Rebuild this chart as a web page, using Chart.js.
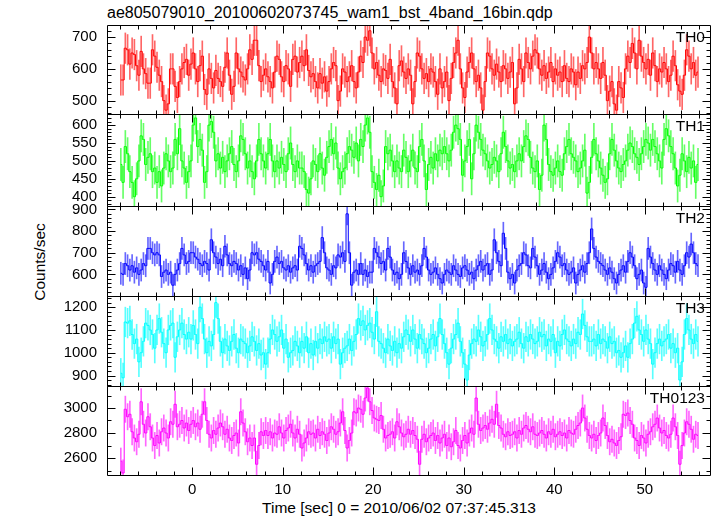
<!DOCTYPE html>
<html>
<head>
<meta charset="utf-8">
<script src="https://cdn.jsdelivr.net/npm/chart.js@4.4.1/dist/chart.umd.min.js"></script>
<style>
  body { margin: 0; background: #fff; }
  #wrap { position: relative; width: 717px; height: 516px; background: #fff; overflow: hidden;
          font-family: "Liberation Sans", Helvetica, Arial, sans-serif; color: #000; }
  #wrap canvas { position: absolute; left: 0; }
  .txt { position: absolute; font-size: 15.5px; line-height: 18px; white-space: nowrap; }
  #title { left: 107px; top: 4px; font-size: 16px; }
  #ylab { left: 40px; top: 262px; transform: translate(-50%, -50%) rotate(-90deg); }
  #xlab { left: 399px; top: 508px; transform: translate(-50%, -50%); }
  .th { right: 12px; text-align: right; }
</style>
</head>
<body>
<div id="wrap">
  <div id="title" class="txt">ae805079010_20100602073745_wam1_bst_4band_16bin.qdp</div>
  <div id="ylab" class="txt">Counts/sec</div>
  <div id="xlab" class="txt"></div>
</div>
<script>
// binning: 0.25 s, first bin starts at -8 s
const T_START = -8;
const T_BIN = 0.25;

const X_TICKS = [0, 10, 20, 30, 40, 50];
const X_TITLE = "Time [sec] 0 = 2010/06/02 07:37:45.313";
const NAMES = ["TH0", "TH1", "TH2", "TH3", "TH0123"];
const ERRORS = [48, 45, 51, 65, 105];   // typical 1-sigma bar per band

const TH0 = [
  565,565,665,660,615,650,645,610,580,655,600,585,555,555,660,640,
  605,580,560,500,470,490,600,600,545,510,560,600,620,630,580,615,
  650,600,560,610,640,535,520,600,570,540,595,570,560,545,605,650,
  580,520,545,650,600,590,575,565,600,660,630,690,690,610,560,580,
  600,575,560,540,590,640,630,575,560,610,600,545,630,640,590,620,
  640,610,660,595,575,585,560,540,585,555,575,530,560,600,620,610,
  500,530,600,590,560,575,610,560,540,590,640,620,700,690,720,650,
  600,620,580,560,600,595,570,630,560,540,490,610,625,590,570,600,
  580,490,560,650,640,600,570,585,560,600,590,560,520,600,540,560,
  590,500,570,620,650,690,600,540,510,590,620,650,600,560,580,540,
  470,560,650,640,600,580,615,590,560,610,600,570,590,620,490,540,
  630,600,560,650,620,600,640,660,650,600,580,610,570,590,620,560,
  600,580,590,560,610,570,560,600,590,550,590,570,610,600,620,700,
  650,600,620,600,570,620,580,500,530,560,490,470,560,540,510,600,
  640,620,680,650,600,690,640,620,600,630,580,650,610,560,600,590,
  620,600,560,580,640,610,550,530,520,580,660,640,600,620,580,590
];
const TH1 = [
  490,440,540,520,470,440,400,450,500,570,560,490,510,520,470,480,
  440,470,430,480,520,500,470,480,560,520,590,500,480,440,470,500,
  600,620,540,560,530,440,470,600,610,580,500,520,480,510,470,500,
  520,540,490,470,500,570,560,520,480,500,470,450,500,560,520,500,
  480,520,560,500,470,500,480,510,490,470,520,550,490,470,500,480,
  480,470,420,410,450,500,490,470,520,480,460,510,540,560,520,550,
  480,450,470,480,520,540,530,510,550,500,560,540,600,620,580,470,
  440,420,460,400,430,540,520,530,500,470,500,480,470,530,510,470,
  500,530,480,470,540,560,500,420,490,510,480,520,500,530,520,540,
  520,500,530,580,600,590,560,460,500,540,560,450,520,600,580,560,
  530,520,500,480,490,510,500,470,520,580,540,500,480,490,470,500,
  520,500,540,570,560,510,480,470,500,420,460,600,560,490,470,460,
  480,500,470,460,520,540,560,520,510,500,470,480,500,530,410,440,
  510,560,520,500,480,460,440,450,520,560,530,500,480,470,490,500,
  530,550,540,520,510,490,520,540,560,550,530,560,540,520,500,480,
  560,590,570,540,520,480,430,460,520,500,470,510,480,500,440,490
];
const TH2 = [
  605,600,650,640,620,640,610,630,600,620,650,640,720,720,700,690,
  700,690,590,610,620,600,610,550,600,620,650,720,690,650,660,700,
  700,680,670,650,640,660,650,620,760,700,680,650,670,640,730,690,
  650,640,660,650,620,640,600,630,580,620,700,690,700,670,660,640,
  620,660,560,600,660,680,650,660,630,620,640,610,630,640,620,730,
  720,690,650,620,640,610,640,650,660,770,700,630,620,600,640,630,
  690,680,700,660,880,700,550,610,620,600,650,600,620,590,610,610,
  720,700,680,650,660,620,720,680,620,600,610,580,600,700,660,630,
  600,640,610,620,600,640,720,680,620,600,610,630,600,580,560,600,
  620,610,600,640,620,600,590,630,640,620,600,610,580,620,640,660,
  620,640,650,600,620,760,700,660,640,790,720,610,580,600,560,620,
  640,650,700,690,640,630,720,680,640,600,620,650,610,580,600,630,
  660,700,680,640,650,620,600,610,630,560,600,620,640,610,650,700,
  810,720,680,660,650,640,620,600,630,610,580,560,600,620,640,610,
  660,700,680,640,580,600,620,560,540,720,680,650,620,600,640,620,
  600,580,620,650,640,610,660,620,600,640,700,680,740,700,650,640
];
const TH3 = [
  910,890,1135,1130,1140,1080,1040,1060,960,1000,1050,1130,1120,1100,1080,1020,
  1100,1150,1090,1040,1000,1100,1120,1130,980,1070,1100,1130,1080,1060,1090,1060,
  1120,1080,1040,1200,1150,1060,1000,1050,1030,1080,1220,1150,1050,1000,1060,1030,
  1010,1050,1080,1020,1000,1060,1050,1040,1000,1030,1070,1050,1010,1040,990,1000,
  950,1000,1060,1100,1080,1050,1070,1100,1020,1060,980,1000,1010,1050,1030,1000,
  1050,1020,1070,1000,1040,990,1050,1020,1060,1040,1070,1050,1060,1020,1070,1040,
  1060,950,1000,1020,1030,1060,1010,1050,1080,1150,1120,1140,1100,1120,1130,1090,
  1060,1180,1050,1040,1020,1000,1060,1030,1010,1050,1000,1040,1020,1070,1100,1080,
  1050,1100,1060,1020,1080,1060,1040,1000,1020,1060,1080,1030,1070,1150,1080,1040,
  1000,950,1020,1060,1080,1130,1050,1000,950,880,990,1040,1060,1050,1100,1070,
  1030,1050,1080,1150,1100,1060,1050,1020,1070,1050,1080,1040,1060,1030,1050,1060,
  1090,1040,1020,1070,1050,1080,1060,1040,1050,1090,1070,1080,1030,1060,1050,1080,
  1000,1050,1030,1080,1100,1060,1050,1030,1060,1040,1090,1080,1170,1120,1070,1050,
  1050,1060,1030,1080,1040,1060,1050,1020,1070,1040,1050,1000,1010,980,1000,1030,
  980,1040,1060,1130,1160,1100,1080,1050,1100,1060,1040,950,1000,1040,1060,1030,
  1050,1060,1080,1020,1040,1000,1020,880,960,1080,1150,1100,1060,1040,1080,1050
];
const TH0123 = [
  2575,2480,2990,2930,2950,2810,2760,2730,2790,3050,2870,2800,2930,2850,2760,2700,
  2780,2720,2810,2840,2800,2760,2890,2870,3030,2850,2870,2900,2840,2880,2820,2870,
  2900,2850,2880,2830,2950,3050,2900,2790,2760,2820,2790,2840,2880,2850,2790,2830,
  2760,2740,2780,2800,2720,2970,2880,2810,2730,2760,2700,2760,2550,2700,2810,2780,
  2820,2780,2810,2760,2800,2790,2850,2800,2760,2820,2840,2870,2800,2760,2830,2790,
  2680,2720,2760,2810,2790,2800,2760,2830,2780,2810,2790,2740,2800,2850,2830,2790,
  2810,2880,2970,2820,2680,2740,2800,2970,2960,3000,2990,2950,3080,3160,3050,2980,
  2920,2910,2900,2940,2830,2760,2780,2790,2810,2760,2890,2850,2800,2770,2790,2830,
  2790,2820,2780,2750,2550,2750,2790,2730,2760,2780,2800,2740,2780,2720,2760,2790,
  2700,2760,2690,2730,2820,2700,2680,2740,2780,2720,2800,2840,2790,3080,2870,2820,
  2840,2860,2830,2880,2910,2870,3030,2860,2840,2790,2770,2810,2780,2790,2810,2760,
  2820,2790,2840,2860,2830,2810,2850,2790,2780,2800,2820,2790,2760,2810,2790,2830,
  2770,2790,2810,2780,2800,2760,2820,2800,2790,2830,2860,2880,3000,2920,2830,2780,
  2760,2790,2740,2780,2800,2920,2860,2780,2730,2750,2720,2700,2740,2770,2950,2940,
  2960,2900,2870,2760,2740,2700,2780,2760,2720,2790,2810,2850,2870,2920,2840,2800,
  2820,2780,2760,2790,2920,2850,2780,2550,2700,2800,2890,2870,2830,2750,2790,2780
];
const SERIES = [TH0, TH1, TH2, TH3, TH0123];

// axis ranges and ticks (y per panel)
const Y_MIN = [458, 374, 500, 854, 2464];
const Y_MAX = [738, 631, 916, 1249, 3176];
const Y_TICKS = [
  [500, 600, 700],
  [400, 450, 500, 550, 600],
  [600, 700, 800, 900],
  [900, 1000, 1100, 1200],
  [2600, 2800, 3000]
];
const Y_MAJOR = [100, 50, 100, 100, 200];
const Y_MINOR = [20, 10, 20, 20, 100];
const X_MIN = -9.4, X_MAX = 57.2, X_MAJOR = 10, X_MINOR = 2;

// layout (pixels)
const EDGES = [25, 114, 206, 296, 386, 475];
const PLOT_LEFT = 107, PLOT_RIGHT = 710, W = 717, PAD = 10, X_AXIS_H = 41;
const COLORS = ["#ff0000", "#00ff00", "#0000ff", "#00ffff", "#ff00ff"];
const BAR_COLORS = ["rgba(255,0,0,0.6)", "rgba(0,255,0,0.6)", "rgba(0,0,255,0.6)",
                    "rgba(0,255,255,0.65)", "rgba(255,0,255,0.6)"];
const TICK_FONT = { family: '"Liberation Sans", Helvetica, Arial, sans-serif', size: 15 };

const isMult = (v, s) => Math.abs(v / s - Math.round(v / s)) < 1e-6;

// box round the panel + inward ticks on all four sides (pgplot style)
const framePlugin = {
  id: "frame",
  afterDraw(chart, args, o) {
    const { ctx, chartArea: a, scales: { x, y } } = chart;
    const L = Math.round(a.left) + 0.5, R = Math.round(a.right) + 0.5;
    const T = Math.round(a.top) + 0.5, B = Math.round(a.bottom) + 0.5;
    ctx.save();
    ctx.strokeStyle = "#000";
    ctx.lineWidth = 1;
    ctx.beginPath();
    ctx.rect(L, T, R - L, B - T);
    for (let v = Math.ceil(X_MIN / X_MINOR) * X_MINOR; v <= X_MAX; v += X_MINOR) {
      const px = Math.round(x.getPixelForValue(v)) + 0.5;
      const len = isMult(v, X_MAJOR) ? 8 : 4;
      ctx.moveTo(px, T); ctx.lineTo(px, T + len);
      ctx.moveTo(px, B); ctx.lineTo(px, B - len);
    }
    for (let v = Math.ceil(o.min / o.minor) * o.minor; v <= o.max; v += o.minor) {
      const py = Math.round(y.getPixelForValue(v)) + 0.5;
      const len = isMult(v, o.major) ? 8 : 4;
      ctx.moveTo(L, py); ctx.lineTo(L + len, py);
      ctx.moveTo(R, py); ctx.lineTo(R - len, py);
    }
    ctx.stroke();
    ctx.restore();
  }
};

const wrap = document.getElementById("wrap");
document.getElementById("xlab").textContent = X_TITLE;
const times = TH0.map((_, i) => T_START + (i + 0.5) * T_BIN);

SERIES.forEach((vals, k) => {
  const last = k === SERIES.length - 1;
  const top = EDGES[k] - PAD;
  const h = EDGES[k + 1] - EDGES[k] + PAD + (last ? X_AXIS_H : PAD);
  const cv = document.createElement("canvas");
  cv.width = W; cv.height = h;
  cv.style.top = top + "px";
  wrap.appendChild(cv);

  const lab = document.createElement("div");
  lab.className = "txt th";
  lab.textContent = NAMES[k];
  lab.style.top = (EDGES[k] + 3) + "px";
  wrap.appendChild(lab);

  new Chart(cv, {
    type: "bar",
    data: {
      datasets: [
        {
          type: "line",
          label: NAMES[k],
          data: vals.map((v, i) => ({ x: times[i], y: v })),
          borderColor: COLORS[k],
          borderWidth: 1,
          pointRadius: 0,
          stepped: "middle",
          order: 0
        },
        {
          type: "bar",
          label: NAMES[k] + " err",
          data: vals.map((v, i) => ({ x: times[i], y: [v - ERRORS[k], v + ERRORS[k]] })),
          backgroundColor: BAR_COLORS[k],
          barThickness: 1,
          grouped: false,
          order: 1
        }
      ]
    },
    options: {
      responsive: false,
      animation: false,
      events: [],
      layout: { padding: { top: PAD, bottom: last ? 0 : PAD, left: 0, right: W - PLOT_RIGHT } },
      plugins: {
        legend: { display: false },
        tooltip: { enabled: false },
        frame: { min: Y_MIN[k], max: Y_MAX[k], major: Y_MAJOR[k], minor: Y_MINOR[k] }
      },
      scales: {
        x: {
          type: "linear",
          min: X_MIN, max: X_MAX,
          offset: false,
          display: last,
          grid: { display: false, drawTicks: false },
          border: { display: false },
          afterBuildTicks: (s) => { s.ticks = X_TICKS.map((v) => ({ value: v })); },
          ticks: { color: "#000", font: TICK_FONT, padding: 6, maxRotation: 0, autoSkip: false,
                   callback: (v) => String(v) },
          afterFit: (s) => {
            s.paddingLeft = 0; s.paddingRight = 0;
            if (last) s.height = X_AXIS_H;
          }
        },
        y: {
          min: Y_MIN[k], max: Y_MAX[k],
          grid: { display: false, drawTicks: false },
          border: { display: false },
          afterBuildTicks: (s) => { s.ticks = Y_TICKS[k].map((v) => ({ value: v })); },
          ticks: { color: "#000", font: TICK_FONT, padding: 10, autoSkip: false,
                   callback: (v) => String(v) },
          afterFit: (s) => {
            s.paddingTop = 0; s.paddingBottom = 0;
            s.width = PLOT_LEFT;
          }
        }
      }
    },
    plugins: [framePlugin]
  });
});
</script>
</body>
</html>
